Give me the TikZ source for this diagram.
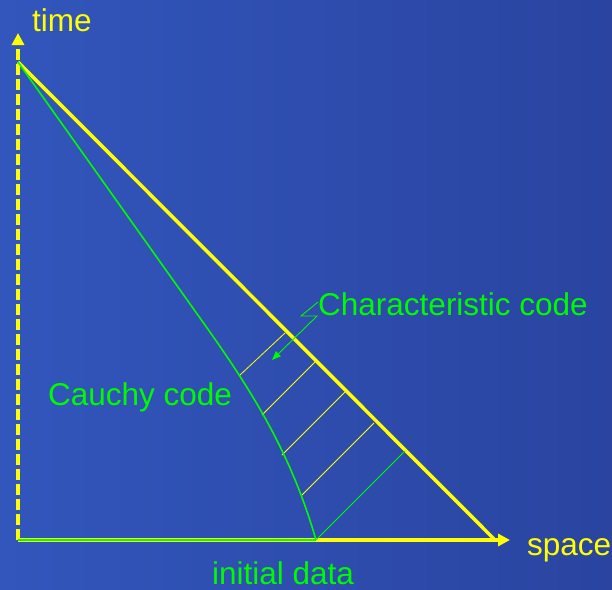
\documentclass[tikz,border=0pt]{standalone}
\usepackage{fontspec}
\setmainfont{Liberation Sans}
\usetikzlibrary{positioning}
\usetikzlibrary{calc}
\usetikzlibrary{arrows.meta}
\definecolor{bgleft}{RGB}{50,86,188}
\definecolor{bgright}{RGB}{42,68,160}
\definecolor{slideyellow}{RGB}{255,255,0}
\definecolor{slidegreen}{RGB}{0,250,0}

\begin{document}
\begin{tikzpicture}[
        x=1pt, y=-1pt,
        label/.style={anchor=base west, inner sep=0pt, font=\fontsize{31.5}{37}\selectfont},
        axis/.style={slideyellow, line width=3.5pt, -{Triangle[length=12pt, width=12pt]}},
        hatch/.style={slideyellow, line width=0.8pt},
        curve/.style={slidegreen, line width=1.6pt},
        arrow/.style={slidegreen, line width=0.9pt, -{Triangle[length=9pt, width=7pt]}},
    ]
        \useasboundingbox (0,0) rectangle (612,589);
        \shade[left color=bgleft, right color=bgright] (0,0) rectangle (612,589);

        \coordinate (origin) at (18,540);
        \coordinate (top) at (18,62);
        \coordinate (foot) at (495,540);
        \coordinate (cusp) at (316,540);
        \coordinate (bend) at (200,318);

        \node[label, text=slideyellow] (time) at (32,31) {time};
        \node[label, text=slideyellow] (space) at (527,555) {space};
        \node[label, text=slidegreen] (initial) at (212,584) {initial data};
        \node[label, text=slidegreen] (cauchy) at (48,405) {Cauchy code};
        \node[label, text=slidegreen] (charac) at (318,315) {Characteristic code};

        % axes
        \draw[axis, dash pattern=on 11pt off 4pt] (origin) -- (18,33);
        \draw[axis] (origin) -- (510,540);
        \draw[slideyellow, line width=3.5pt] (top) -- (foot);

        % hatching between the two codes
        \draw[hatch] (240,375) -- (285,333);
        \draw[hatch] (262,415) -- (315,362);
        \draw[hatch] (282,455) -- (345,392);
        \draw[hatch] (302,495) -- (374,423);
        \draw[curve, line width=1pt] (cusp) -- (405,451);

        % cauchy boundary
        \draw[curve] (top) -- (bend) .. controls (250,388) and (290,450) .. (cusp);
        \draw[curve] (origin) -- (cusp);

        % label pointer
        \coordinate (p1) at (301,316);
        \coordinate (p2) at (317,316);
        \coordinate (target) at (272,360);
        \draw[arrow] (charac.west |- 0,302) -- (p1) -- (p2) -- (target);
    \end{tikzpicture}
\end{document}
